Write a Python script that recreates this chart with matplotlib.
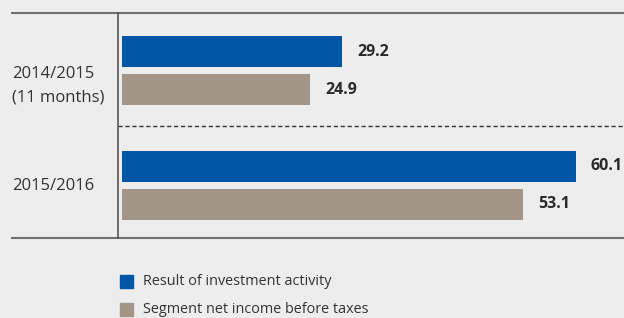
import matplotlib.pyplot as plt
from matplotlib.patches import Rectangle

plt.rcParams['font.family'] = ['Open Sans', 'DejaVu Sans']

periods = ["2014/2015\n(11 months)", "2015/2016"]
investment = [29.2, 60.1]
net_income = [24.9, 53.1]
series_names = ["Result of investment activity", "Segment net income before taxes"]

BLUE = "#0055a5"
GREY = "#a39689"
BG = "#ededed"
TXT = "#333333"

W, H = 624, 318
fig = plt.figure(figsize=(W / 100, H / 100), dpi=100, facecolor=BG)

# axes in pixel terms: left edge at the vertical line, top/bottom at the rules
left, top, bottom = 118, 13, 238
ax = fig.add_axes([left / W, 1 - bottom / H, (W - left) / W, (bottom - top) / H])
ax.set_facecolor(BG)

scale = 7.55  # px per unit
x0 = -4 / scale
ax.set_xlim(x0, x0 + (W - left) / scale)
ax.set_ylim(bottom - top, 0)

group_c = [57.5, 172.5]
label_shift = [15, 0]
bar_h = 31
off = 19
for i, c in enumerate(group_c):
    ax.barh(c - off, investment[i], height=bar_h, color=BLUE)
    ax.barh(c + off, net_income[i], height=bar_h, color=GREY)
    ax.text(investment[i] + 2.0, c - off, f"{investment[i]:.1f}", va="center", ha="left",
            fontsize=11.5, fontweight="bold", color="#2a2a2a")
    ax.text(net_income[i] + 2.0, c + off, f"{net_income[i]:.1f}", va="center", ha="left",
            fontsize=11.5, fontweight="bold", color="#2a2a2a")
    fig.text(12 / W, 1 - (top + c + label_shift[i]) / H, periods[i], ha="left", va="center",
             fontsize=12, color=TXT, linespacing=1.6)

ax.axhline(113, color="#333333", lw=1, ls=(0, (3, 2)))
for s in ax.spines.values():
    s.set_visible(False)
ax.set_xticks([])
ax.set_yticks([])

# frame lines
fig.add_artist(plt.Line2D([12 / W, 1], [1 - top / H] * 2, color="#707070", lw=1.5))
fig.add_artist(plt.Line2D([12 / W, 1], [1 - bottom / H] * 2, color="#707070", lw=1.5))
fig.add_artist(plt.Line2D([left / W] * 2, [1 - top / H, 1 - bottom / H], color="#555555", lw=1.2))

# legend
for j, (name, col) in enumerate(zip(series_names, [BLUE, GREY])):
    yc = 281.5 + j * 28
    fig.add_artist(Rectangle((120 / W, 1 - (yc + 6.5) / H), 13 / W, 13 / H,
                             transform=fig.transFigure, color=col))
    fig.text(143 / W, 1 - yc / H, name, ha="left", va="center", fontsize=10.4, color=TXT)

fig.savefig("out.png", dpi=100, facecolor=BG)
